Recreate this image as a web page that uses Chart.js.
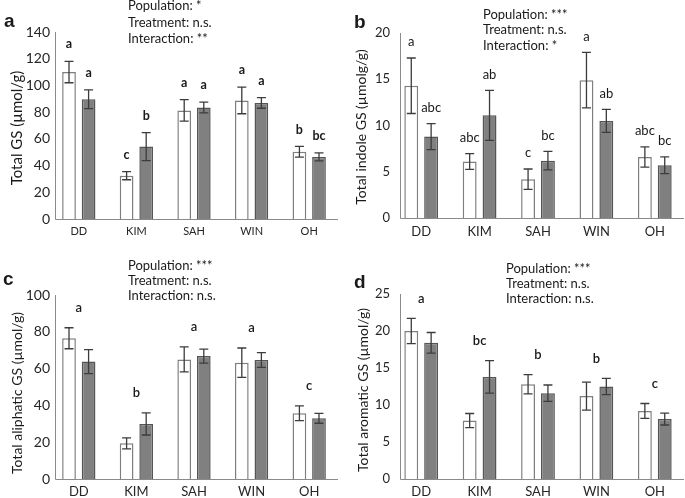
<!DOCTYPE html>
<html>
<head>
<meta charset="utf-8">
<script src="https://cdn.jsdelivr.net/npm/chart.js@4.4.0/dist/chart.umd.min.js"></script>
<style>
  body { margin: 0; background: #fff; width: 685px; height: 498px; position: relative; overflow: hidden; }
  canvas { position: absolute; }
</style>
</head>
<body>
<canvas id="panelA" width="342" height="249" style="left:0;top:0"></canvas>
<canvas id="panelB" width="343" height="249" style="left:342px;top:0"></canvas>
<canvas id="panelC" width="342" height="249" style="left:0;top:249px"></canvas>
<canvas id="panelD" width="343" height="249" style="left:342px;top:249px"></canvas>
<script>
// Populations
const categories = ['DD', 'KIM', 'SAH', 'WIN', 'OH'];

// a - Total GS
const totalTicks = [0, 20, 40, 60, 80, 100, 120, 140];
const totalCtrl = [110, 32.4, 81.3, 88.8, 50.3];
const totalCtrlErr = [8, 3, 8, 10, 4];
const totalTrt = [89.6, 54.2, 83.5, 86.9, 46.5];
const totalTrtErr = [7, 10.5, 4, 4, 3];
const totalCtrlLetters = ['a', 'c', 'a', 'a', 'b'];
const totalTrtLetters = ['a', 'b', 'a', 'a', 'bc'];
const totalStats = ['Population: *', 'Treatment: n.s.', 'Interaction: **'];

// b - Total indole GS
const indoleTicks = [0, 5, 10, 15, 20];
const indoleCtrl = [14.3, 6.1, 4.2, 14.9, 6.6];
const indoleCtrlErr = [3, 0.85, 1.1, 3, 1.1];
const indoleTrt = [8.8, 11.1, 6.2, 10.5, 5.7];
const indoleTrtErr = [1.4, 2.7, 1.0, 1.25, 0.9];
const indoleCtrlLetters = ['a', 'abc', 'c', 'a', 'abc'];
const indoleTrtLetters = ['abc', 'ab', 'bc', 'ab', 'bc'];
const indoleStats = ['Population: ***', 'Treatment: n.s.', 'Interaction: *'];

// c - Total aliphatic GS
const aliphaticTicks = [0, 20, 40, 60, 80, 100];
const aliphaticCtrl = [76.5, 19.4, 65, 63.2, 35.7];
const aliphaticCtrlErr = [5.7, 3, 6.8, 8, 4];
const aliphaticTrt = [63.8, 29.9, 66.8, 64.7, 33];
const aliphaticTrtErr = [6.5, 6, 3.8, 4, 2.7];
const aliphaticLetters = ['a', 'b', 'a', 'a', 'c'];
const aliphaticStats = ['Population: ***', 'Treatment: n.s.', 'Interaction: n.s.'];

// d - Total aromatic GS
const aromaticTicks = [0, 5, 10, 15, 20, 25];
const aromaticCtrl = [20.0, 7.9, 12.8, 11.2, 9.2];
const aromaticCtrlErr = [1.7, 0.95, 1.3, 1.9, 1.0];
const aromaticTrt = [18.4, 13.8, 11.6, 12.5, 8.1];
const aromaticTrtErr = [1.4, 2.2, 1.1, 1.1, 0.8];
const aromaticLetters = ['a', 'bc', 'b', 'b', 'c'];
const aromaticStats = ['Population: ***', 'Treatment: n.s.', 'Interaction: n.s.'];

const FONT = 'Lato, "Open Sans", sans-serif';

// Error bars, letters, axis lines and panel texts
const panelDecor = {
    id: 'panelDecor',
    beforeDatasetsDraw(chart, args, o) {
        const ctx = chart.ctx;
        const area = chart.chartArea;
        const ax = area.left + o.axisShift;
        ctx.save();
        ctx.strokeStyle = '#8a8a8a';
        ctx.lineWidth = 1;
        ctx.beginPath();
        ctx.moveTo(ax + 0.5, area.top);
        ctx.lineTo(ax + 0.5, area.bottom + 0.5);
        ctx.lineTo(area.right, area.bottom + 0.5);
        ctx.stroke();
        ctx.restore();
    },
    afterDatasetsDraw(chart, args, o) {
        const ctx = chart.ctx;
        const yScale = chart.scales.y;
        const tops = [[], []];
        ctx.save();
        ctx.strokeStyle = '#3c3c3c';
        ctx.lineWidth = 1.3;
        o.errors.forEach((errs, i) => {
            const meta = chart.getDatasetMeta(i);
            meta.data.forEach((bar, j) => {
                const v = chart.data.datasets[i].data[j];
                const top = yScale.getPixelForValue(v + errs[j]);
                const bot = yScale.getPixelForValue(v - errs[j]);
                tops[i][j] = { x: bar.x, y: top };
                ctx.beginPath();
                ctx.moveTo(bar.x, top);
                ctx.lineTo(bar.x, bot);
                ctx.moveTo(bar.x - 4.5, top);
                ctx.lineTo(bar.x + 4.5, top);
                ctx.moveTo(bar.x - 4.5, bot);
                ctx.lineTo(bar.x + 4.5, bot);
                ctx.stroke();
            });
        });

        // significance letters
        ctx.fillStyle = '#1a1a1a';
        ctx.font = o.letterFont;
        ctx.textAlign = 'center';
        ctx.textBaseline = 'middle';
        if (o.barLetters) {
            o.barLetters.forEach((letters, i) => {
                letters.forEach((t, j) => {
                    ctx.fillText(t, tops[i][j].x, tops[i][j].y - o.letterGap);
                });
            });
        } else {
            o.catLetters.forEach((t, j) => {
                const x = chart.scales.x.getPixelForValue(j);
                const y = Math.min(tops[0][j].y, tops[1][j].y);
                ctx.fillText(t, x, y - o.letterGap);
            });
        }
        ctx.restore();
    },
    afterDraw(chart, args, o) {
        const ctx = chart.ctx;
        ctx.save();
        ctx.fillStyle = '#1a1a1a';
        ctx.textAlign = 'left';
        ctx.textBaseline = 'alphabetic';

        // panel letter
        ctx.font = 'bold 19px "Liberation Sans", Arial, sans-serif';
        ctx.fillText(o.panel, o.panelPos[0], o.panelPos[1]);

        // statistics
        ctx.font = o.statFont;
        o.stats.forEach((s, i) => {
            ctx.fillText(s, o.statPos[0], o.statPos[1 + i]);
        });

        // y axis title
        ctx.font = o.titleFont;
        ctx.textAlign = 'center';
        ctx.textBaseline = 'middle';
        ctx.translate(o.titlePos[0], o.titlePos[1]);
        ctx.rotate(-Math.PI / 2);
        ctx.fillText(o.title, 0, 0);
        ctx.restore();
    }
};

function makePanel(id, p) {
    const ticks = p.ticks;
    new Chart(document.getElementById(id), {
        type: 'bar',
        data: {
            labels: categories,
            datasets: [{
                data: p.ctrl,
                backgroundColor: '#ffffff',
                borderColor: '#7f7f7f',
                borderWidth: 1.5
            }, {
                data: p.trt,
                backgroundColor: '#808080',
                borderColor: '#555555',
                borderWidth: 1.5
            }]
        },
        options: {
            responsive: false,
            animation: false,
            categoryPercentage: 0.68,
            barPercentage: 0.7,
            layout: { padding: { left: 0, right: p.padRight, top: p.padTop, bottom: 0 } },
            scales: {
                x: {
                    grid: { display: false, drawTicks: false },
                    border: { display: false },
                    ticks: {
                        color: '#262626',
                        padding: p.catPad,
                        font: { family: FONT, size: p.catSize }
                    },
                    afterFit: function(scale) { scale.height = p.xHeight; }
                },
                y: {
                    min: ticks[0],
                    max: ticks[ticks.length - 1],
                    grid: { display: false, drawTicks: false },
                    border: { display: false },
                    ticks: {
                        stepSize: ticks[1] - ticks[0],
                        color: '#262626',
                        padding: p.tickPad,
                        font: { family: FONT, size: p.tickSize }
                    },
                    afterFit: function(scale) { scale.width = p.yWidth; }
                }
            },
            plugins: {
                legend: { display: false },
                tooltip: { enabled: false },
                panelDecor: p.decor
            }
        },
        plugins: [panelDecor]
    });
}

document.addEventListener('DOMContentLoaded', function() {
    makePanel('panelA', {
        ticks: totalTicks, ctrl: totalCtrl, trt: totalTrt,
        padRight: 4, padTop: 32, xHeight: 30, yWidth: 50,
        tickPad: 0, tickSize: 14, catPad: 6, catSize: 11,
        decor: {
            axisShift: 5,
            errors: [totalCtrlErr, totalTrtErr],
            barLetters: [totalCtrlLetters, totalTrtLetters],
            letterFont: 'bold 12.5px ' + FONT, letterGap: 17,
            panel: 'a', panelPos: [4, 27],
            stats: totalStats, statFont: '13px ' + FONT, statPos: [128, 10, 27, 43],
            title: 'Total GS (\u00b5mol/g)', titleFont: '15px ' + FONT, titlePos: [17, 128]
        }
    });

    makePanel('panelB', {
        ticks: indoleTicks, ctrl: indoleCtrl, trt: indoleTrt,
        padRight: 1, padTop: 33, xHeight: 31, yWidth: 50,
        tickPad: 2, tickSize: 13, catPad: 6, catSize: 13,
        decor: {
            axisShift: 8,
            errors: [indoleCtrlErr, indoleTrtErr],
            barLetters: [indoleCtrlLetters, indoleTrtLetters],
            letterFont: '13px ' + FONT, letterGap: 16,
            panel: 'b', panelPos: [12, 28],
            stats: indoleStats, statFont: '13px ' + FONT, statPos: [141, 19, 34, 50],
            title: 'Total indole GS (\u00b5molg/g)', titleFont: '14px ' + FONT, titlePos: [19, 127]
        }
    });

    makePanel('panelC', {
        ticks: aliphaticTicks, ctrl: aliphaticCtrl, trt: aliphaticTrt,
        padRight: 4, padTop: 46, xHeight: 19, yWidth: 50,
        tickPad: 0, tickSize: 14, catPad: 5, catSize: 13,
        decor: {
            axisShift: 5,
            errors: [aliphaticCtrlErr, aliphaticTrtErr],
            catLetters: aliphaticLetters,
            letterFont: '600 13px ' + FONT, letterGap: 20,
            panel: 'c', panelPos: [3, 36],
            stats: aliphaticStats, statFont: '13px ' + FONT, statPos: [128, 21, 36, 51],
            title: 'Total aliphatic GS (\u00b5mol/g)', titleFont: '14px ' + FONT, titlePos: [17, 144]
        }
    });

    makePanel('panelD', {
        ticks: aromaticTicks, ctrl: aromaticCtrl, trt: aromaticTrt,
        padRight: 1, padTop: 45, xHeight: 19, yWidth: 50,
        tickPad: 2, tickSize: 13, catPad: 5, catSize: 13,
        decor: {
            axisShift: 8,
            errors: [aromaticCtrlErr, aromaticTrtErr],
            catLetters: aromaticLetters,
            letterFont: '600 13px ' + FONT, letterGap: 20,
            panel: 'd', panelPos: [12, 39],
            stats: aromaticStats, statFont: '13px ' + FONT, statPos: [164, 24, 39, 54],
            title: 'Total aromatic GS (\u00b5mol/g)', titleFont: '14px ' + FONT, titlePos: [21, 141]
        }
    });
});
</script>
</body>
</html>
